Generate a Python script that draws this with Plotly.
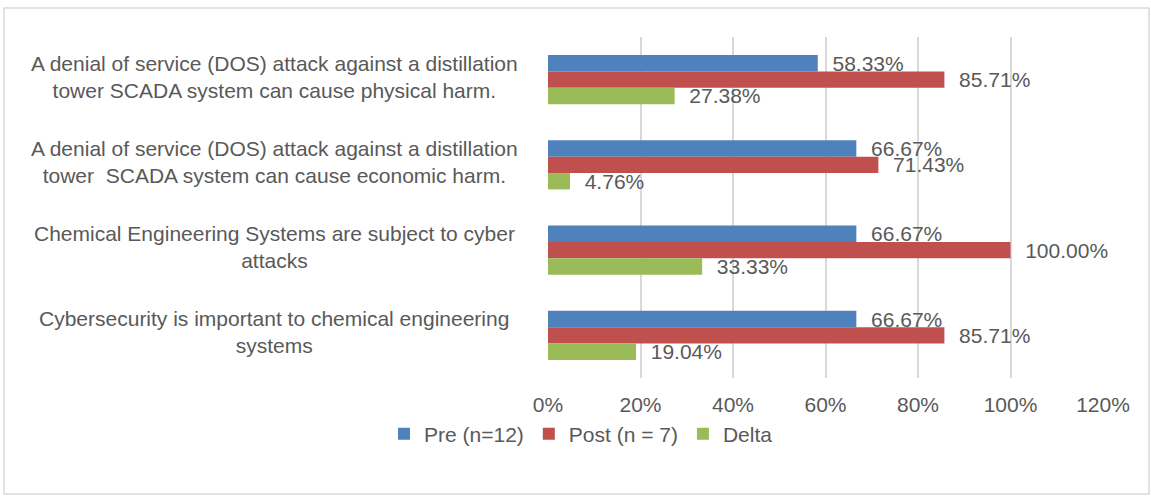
import plotly.graph_objects as go

categories = [
    "A denial of service (DOS) attack against a distillation<br>tower SCADA system can cause physical harm.",
    "A denial of service (DOS) attack against a distillation<br>tower  SCADA system can cause economic harm.",
    "Chemical Engineering Systems are subject to cyber<br>attacks",
    "Cybersecurity is important to chemical engineering<br>systems",
]
cat_keys = ["c1", "c2", "c3", "c4"]
pre = [58.33, 66.67, 66.67, 66.67]
post = [85.71, 71.43, 100.00, 85.71]
delta = [27.38, 4.76, 33.33, 19.04]
series_names = ["Pre (n=12)", "Post (n = 7)", "Delta"]
colors = ["#4F81BD", "#C0504D", "#9BBB59"]
x_ticks = [0, 20, 40, 60, 80, 100, 120]

W, H = 1151, 496
L, R, T, B = 548, 48, 37, 118
pw, ph = W - L - R, H - T - B

FONT = "Liberation Sans"
FS = 21
TXT = "#595959"

fig = go.Figure()
for name, vals, col in zip(series_names, [pre, post, delta], colors):
    fig.add_trace(go.Bar(
        y=cat_keys, x=vals, name=name, orientation="h",
        marker=dict(color=col, line=dict(width=0)),
        text=[f"\u00a0\u00a0{v:.2f}%" for v in vals],
        textposition="outside", constraintext="none", cliponaxis=False,
        textfont=dict(family=FONT, size=FS, color=TXT),
    ))

def px2paper_x(px):
    return (px - L) / pw

def px2paper_y(py):
    return (H - B - py) / ph

annotations = []
for key, label in zip(cat_keys, categories):
    annotations.append(dict(
        x=px2paper_x(274), xref="paper", y=key, yref="y",
        text=label, showarrow=False, xanchor="center", yanchor="middle",
        align="center", yshift=3,
        font=dict(family=FONT, size=FS, color=TXT),
    ))

fig.update_layout(
    width=W, height=H,
    margin=dict(l=L, r=R, t=T, b=B, pad=0),
    paper_bgcolor="white", plot_bgcolor="white",
    barmode="group", bargap=0.424, bargroupgap=0,
    font=dict(family=FONT, size=FS, color=TXT),
    xaxis=dict(
        range=[0, 120], tickvals=x_ticks, ticktext=[f"{v}%" for v in x_ticks],
        showgrid=True, gridcolor="#D9D9D9", gridwidth=1.5, zeroline=False,
        ticks="outside", ticklen=8, tickcolor="rgba(0,0,0,0)",
        tickfont=dict(family=FONT, size=FS, color=TXT), fixedrange=True,
    ),
    yaxis=dict(
        categoryorder="array", categoryarray=cat_keys, autorange="reversed",
        showticklabels=False, showgrid=False, zeroline=False,
        showline=False,
    ),
    showlegend=True,
    legend=dict(
        orientation="h", x=px2paper_x(384), xanchor="left",
        y=px2paper_y(434), yanchor="middle",
        font=dict(family=FONT, size=FS, color=TXT),
        traceorder="normal", itemclick=False,
    ),
    annotations=annotations,
    shapes=[dict(
        type="rect", xref="paper", yref="paper",
        x0=px2paper_x(4), x1=px2paper_x(1149),
        y0=px2paper_y(494), y1=px2paper_y(8),
        line=dict(color="#D9D9D9", width=1.5), fillcolor="rgba(0,0,0,0)",
        layer="below",
    )],
)

fig.write_html("out.html")
